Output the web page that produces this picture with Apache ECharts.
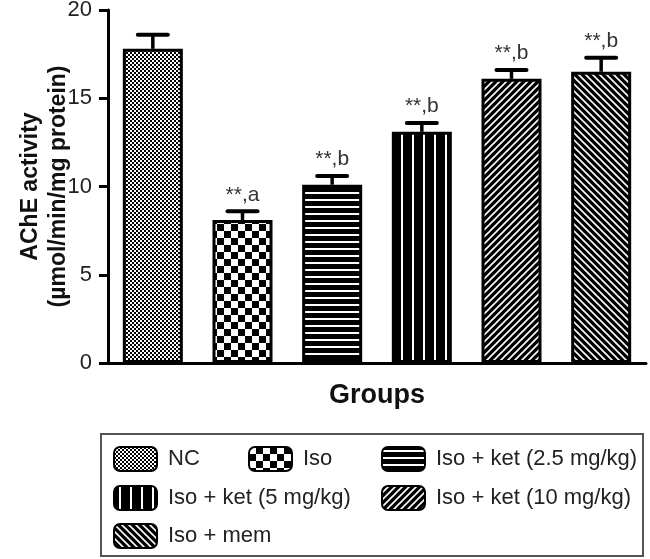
<!DOCTYPE html>
<html><head><meta charset="utf-8">
<script src="https://cdn.jsdelivr.net/npm/echarts@6/dist/echarts.min.js"></script>
<style>html,body{margin:0;padding:0;background:#fff}#c{width:650px;height:559px}</style>
</head><body><div id="c"></div>
<script>
// ---- data ----
const groups = ['NC', 'Iso', 'Iso + ket (2.5 mg/kg)', 'Iso + ket (5 mg/kg)', 'Iso + ket (10 mg/kg)', 'Iso + mem'];
const means = [17.8, 8.1, 10.1, 13.1, 16.1, 16.5];
const errUpper = [18.6, 8.6, 10.6, 13.6, 16.6, 17.3];
const annotations = ['', '**,a', '**,b', '**,b', '**,b', '**,b'];
const yMin = 0, yMax = 20, yInterval = 5;
const yName = 'AChE activity\n(µmol/min/mg protein)';
const xName = 'Groups';

const FONT = '"Liberation Sans", Arial, Helvetica, sans-serif';

function tile(w, h, draw) {
  const c = document.createElement('canvas');
  c.width = w; c.height = h;
  const g = c.getContext('2d');
  g.fillStyle = '#000'; g.fillRect(0, 0, w, h);
  g.fillStyle = '#fff'; g.strokeStyle = '#fff';
  draw(g, w, h);
  return c;
}
const patterns = [
  tile(4, 4, g => { g.fillRect(0, 0, 2, 2); g.fillRect(2, 2, 2, 2); }),
  tile(14, 14, g => { g.fillRect(0, 0, 7, 7); g.fillRect(7, 7, 7, 7); }),
  tile(8, 7, g => { g.fillRect(0, 3, 8, 2); }),
  tile(11, 8, g => { g.fillRect(5, 0, 2, 8); }),
  tile(7, 7, g => { g.lineWidth = 1.6; g.beginPath(); g.moveTo(-1, 8); g.lineTo(8, -1); g.moveTo(-1, 1); g.lineTo(1, -1); g.moveTo(6, 8); g.lineTo(8, 6); g.stroke(); }),
  tile(7, 7, g => { g.lineWidth = 1.6; g.beginPath(); g.moveTo(-1, -1); g.lineTo(8, 8); g.moveTo(6, -1); g.lineTo(8, 1); g.moveTo(-1, 6); g.lineTo(1, 8); g.stroke(); })
];

const barSeries = groups.map((name, i) => ({
  type: 'bar',
  name: name,
  data: means.map((v, j) => (j === i ? v : '-')),
  barGap: '-100%',
  barWidth: 60,
  itemStyle: { color: { image: patterns[i], repeat: 'repeat' }, borderColor: '#000', borderWidth: 3 },
  emphasis: { disabled: true },
  z: 2
}));

const errSeries = {
  type: 'custom',
  name: 'err',
  data: means.map((m, i) => [i, m, errUpper[i]]),
  encode: { x: 0, y: [1, 2] },
  z: 3,
  renderItem: (params, api) => {
    const x = api.value(0);
    const p0 = api.coord([x, api.value(1)]);
    const p1 = api.coord([x, api.value(2)]);
    return {
      type: 'group',
      children: [
        { type: 'line', shape: { x1: p0[0], y1: p0[1], x2: p1[0], y2: p1[1] }, style: { stroke: '#000', lineWidth: 3.5 } },
        { type: 'line', shape: { x1: p1[0] - 15, y1: p1[1], x2: p1[0] + 15, y2: p1[1] }, style: { stroke: '#000', lineWidth: 4, lineCap: 'round' } },
        { type: 'text', style: { text: annotations[params.dataIndex], x: p1[0], y: p1[1] - 6, align: 'center', verticalAlign: 'bottom', fontSize: 21, fill: '#333', fontFamily: FONT } }
      ]
    };
  }
};

const cols = [113, 248, 381];
const rows = [446, 485, 523];
const legendPos = [[0, 0], [1, 0], [2, 0], [0, 1], [2, 1], [0, 2]];
const legends = groups.map((name, i) => ({
  data: [name],
  left: cols[legendPos[i][0]],
  top: rows[legendPos[i][1]],
  padding: 0,
  itemWidth: 43,
  itemHeight: 24,
  icon: 'roundRect',
  selectedMode: false,
  textStyle: { fontSize: 22, color: '#222', fontFamily: FONT, padding: [0, 0, 0, 6] }
}));

const chart = echarts.init(document.getElementById('c'), null, { renderer: 'canvas' });
chart.setOption({
  animation: false,
  backgroundColor: '#fff',
  textStyle: { fontFamily: FONT },
  grid: { left: 108, right: 4, top: 10, bottom: 196, containLabel: false, outerBoundsMode: 'none' },
  xAxis: {
    type: 'category',
    data: groups,
    name: xName,
    nameLocation: 'middle',
    nameGap: 19,
    nameMoveOverlap: false,
    nameTextStyle: { fontSize: 27, fontWeight: 'bold', color: '#111', fontFamily: FONT, verticalAlign: 'top' },
    axisLine: { lineStyle: { color: '#000', width: 3 } },
    axisTick: { alignWithLabel: true, length: 10, lineStyle: { color: '#000', width: 3 } },
    axisLabel: { show: false }
  },
  yAxis: {
    type: 'value',
    min: yMin, max: yMax, interval: yInterval,
    name: yName,
    nameLocation: 'middle',
    nameGap: 35,
    nameMoveOverlap: false,
    nameTextStyle: { fontSize: 23, fontWeight: 'bold', color: '#111', fontFamily: FONT, lineHeight: 28 },
    axisLine: { show: true, lineStyle: { color: '#000', width: 3 } },
    axisTick: { show: true, length: 9, lineStyle: { color: '#000', width: 3 } },
    axisLabel: { fontSize: 22, color: '#222', margin: 16, fontFamily: FONT },
    splitLine: { show: false }
  },
  legend: legends,
  graphic: [
    { type: 'rect', shape: { x: 101, y: 434, width: 542, height: 122 }, style: { fill: 'none', stroke: '#555', lineWidth: 2 }, silent: true }
  ],
  series: barSeries.concat([errSeries])
});
</script></body></html>
